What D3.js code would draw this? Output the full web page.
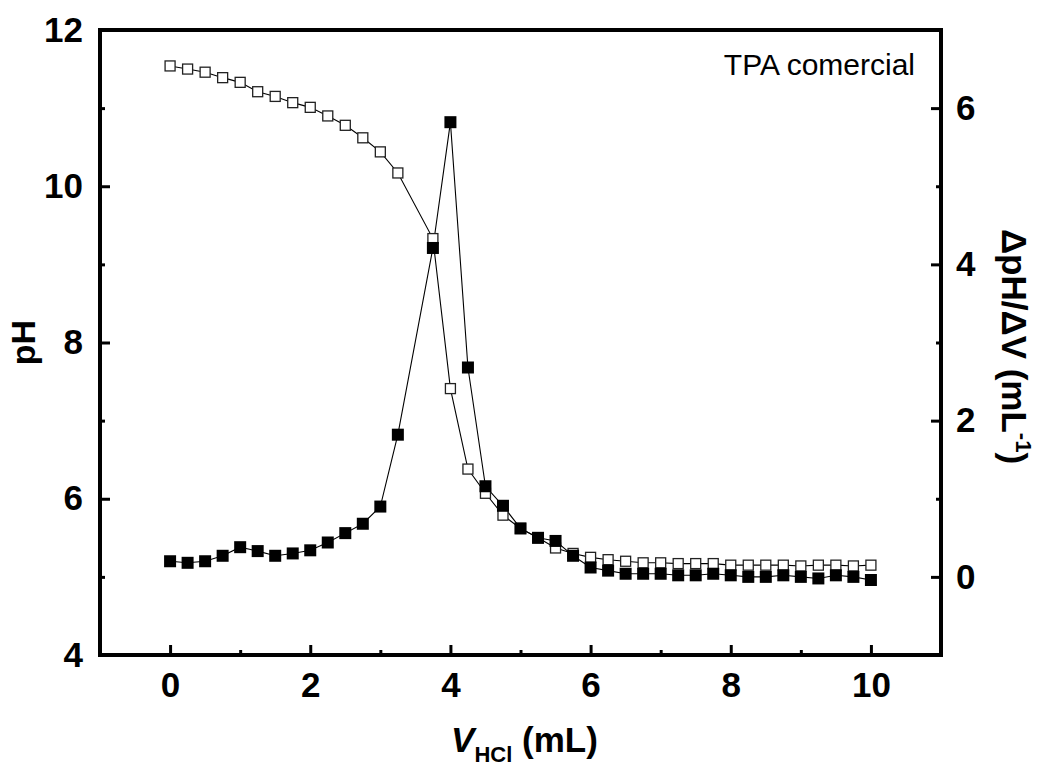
<!DOCTYPE html>
<html>
<head>
<meta charset="utf-8">
<script src="https://cdn.jsdelivr.net/npm/d3@7"></script>
<style>
  body { margin: 0; background: #fff; }
  svg { font-family: Arial, "Liberation Sans", sans-serif; }
</style>
</head>
<body>
<div id="chart"></div>
<script>
// titration volume (mL) - no reading at 3.5 mL
const volume = [0, 0.25, 0.5, 0.75, 1, 1.25, 1.5, 1.75, 2, 2.25, 2.5, 2.75, 3, 3.25,
  3.75, 4, 4.25, 4.5, 4.75, 5, 5.25, 5.5, 5.75, 6, 6.25, 6.5, 6.75, 7, 7.25, 7.5,
  7.75, 8, 8.25, 8.5, 8.75, 9, 9.25, 9.5, 9.75, 10]

const pH = [11.54, 11.50, 11.46, 11.39, 11.33, 11.21, 11.15, 11.07, 11.01, 10.90, 10.78, 10.62, 10.44, 10.17,
  9.33, 7.41, 6.38, 6.07, 5.79, 5.62, 5.50, 5.37, 5.30, 5.25, 5.22, 5.20, 5.18, 5.18, 5.17, 5.17,
  5.17, 5.15, 5.15, 5.15, 5.15, 5.14, 5.15, 5.15, 5.14, 5.15]

const dpHdV = [0.20, 0.18, 0.20, 0.27, 0.38, 0.33, 0.27, 0.30, 0.34, 0.44, 0.56, 0.68, 0.90, 1.82,
  4.21, 5.82, 2.68, 1.16, 0.91, 0.62, 0.50, 0.46, 0.27, 0.12, 0.08, 0.04, 0.04, 0.04, 0.02, 0.02,
  0.04, 0.02, 0.00, 0.00, 0.02, 0.00, -0.02, 0.02, 0.00, -0.04]

const xMajor = [0, 2, 4, 6, 8, 10]
const xMinor = [1, 3, 5, 7, 9]
const pHMajor = [4, 6, 8, 10, 12]
const pHMinor = [5, 7, 9, 11]
const dMajor = [0, 2, 4, 6]
const dMinor = [-1, 1, 3, 5]

const width = 1043
const height = 767
const plotLeft = 100
const plotRight = 941
const plotTop = 30
const plotBottom = 655

const svg = d3.select('#chart')
  .append('svg')
  .attr('width', width)
  .attr('height', height)

const x = d3.scaleLinear().domain([-1, 11]).range([plotLeft, plotRight])
const yL = d3.scaleLinear().domain([4, 12]).range([plotBottom, plotTop])
const yR = d3.scaleLinear().domain([-1, 7]).range([plotBottom, plotTop])

const pts = volume.map((v, i) => ({ v, ph: pH[i], d: dpHdV[i] }))

// axes: inward ticks, labels only on majors
function styleAxis (g) {
  g.select('.domain').remove()
  g.selectAll('line').attr('stroke', '#000').attr('stroke-width', 3)
  g.selectAll('text')
    .attr('fill', '#000')
    .style('font-size', '35px')
    .style('font-weight', 'bold')
}

svg.append('g')
  .attr('transform', `translate(0,${plotBottom})`)
  .call(d3.axisBottom(x).tickValues(xMajor).tickSize(-10).tickPadding(17).tickFormat(d3.format('d')))
  .call(styleAxis)
svg.append('g')
  .attr('transform', `translate(0,${plotBottom})`)
  .call(d3.axisBottom(x).tickValues(xMinor).tickSize(-5).tickFormat(''))
  .call(styleAxis)

svg.append('g')
  .attr('transform', `translate(${plotLeft},0)`)
  .call(d3.axisLeft(yL).tickValues(pHMajor).tickSize(-10).tickPadding(17).tickFormat(d3.format('d')))
  .call(styleAxis)
svg.append('g')
  .attr('transform', `translate(${plotLeft},0)`)
  .call(d3.axisLeft(yL).tickValues(pHMinor).tickSize(-5).tickFormat(''))
  .call(styleAxis)

svg.append('g')
  .attr('transform', `translate(${plotRight},0)`)
  .call(d3.axisRight(yR).tickValues(dMajor).tickSize(-10).tickPadding(15).tickFormat(d3.format('d')))
  .call(styleAxis)
svg.append('g')
  .attr('transform', `translate(${plotRight},0)`)
  .call(d3.axisRight(yR).tickValues(dMinor).tickSize(-5).tickFormat(''))
  .call(styleAxis)

// frame
svg.append('rect')
  .attr('x', plotLeft)
  .attr('y', plotTop)
  .attr('width', plotRight - plotLeft)
  .attr('height', plotBottom - plotTop)
  .attr('fill', 'none')
  .attr('stroke', '#000')
  .attr('stroke-width', 4)

// lines
const linePH = d3.line().x(d => x(d.v)).y(d => yL(d.ph))
const lineD = d3.line().x(d => x(d.v)).y(d => yR(d.d))

svg.append('path')
  .datum(pts)
  .attr('d', linePH)
  .attr('fill', 'none')
  .attr('stroke', '#000')
  .attr('stroke-width', 1.1)

svg.append('path')
  .datum(pts)
  .attr('d', lineD)
  .attr('fill', 'none')
  .attr('stroke', '#000')
  .attr('stroke-width', 1.1)

// markers: open = pH, filled = derivative
const sOpen = 10
svg.selectAll('.open')
  .data(pts)
  .join('rect')
  .attr('class', 'open')
  .attr('x', d => x(d.v) - sOpen / 2)
  .attr('y', d => yL(d.ph) - sOpen / 2)
  .attr('width', sOpen)
  .attr('height', sOpen)
  .attr('fill', '#fff')
  .attr('stroke', '#222')
  .attr('stroke-width', 1.3)

const sFill = 12
svg.selectAll('.filled')
  .data(pts)
  .join('rect')
  .attr('class', 'filled')
  .attr('x', d => x(d.v) - sFill / 2)
  .attr('y', d => yR(d.d) - sFill / 2)
  .attr('width', sFill)
  .attr('height', sFill)
  .attr('fill', '#000')

// annotation
svg.append('text')
  .attr('x', 915)
  .attr('y', 75)
  .attr('text-anchor', 'end')
  .style('font-size', '30px')
  .text('TPA comercial')

// axis titles
const xt = svg.append('text')
  .attr('x', (plotLeft + plotRight) / 2 + 4)
  .attr('y', 752)
  .attr('text-anchor', 'middle')
  .style('font-size', '35px')
  .style('font-weight', 'bold')
xt.append('tspan').style('font-style', 'italic').text('V')
xt.append('tspan').attr('dy', 10).style('font-size', '22px').text('HCl')
xt.append('tspan').attr('dy', -10).text(' (mL)')

svg.append('text')
  .attr('transform', `translate(35,${(plotTop + plotBottom) / 2}) rotate(-90)`)
  .attr('text-anchor', 'middle')
  .style('font-size', '34px')
  .style('font-weight', 'bold')
  .text('pH')

const rt = svg.append('text')
  .attr('transform', `translate(1002,${(plotTop + plotBottom) / 2 + 4}) rotate(90)`)
  .attr('text-anchor', 'middle')
  .style('font-size', '35px')
  .style('font-weight', 'bold')
rt.append('tspan').text('ΔpH/ΔV (mL')
rt.append('tspan').attr('dy', -14).style('font-size', '22px').text('-1')
rt.append('tspan').attr('dy', 14).text(')')
</script>
</body>
</html>
